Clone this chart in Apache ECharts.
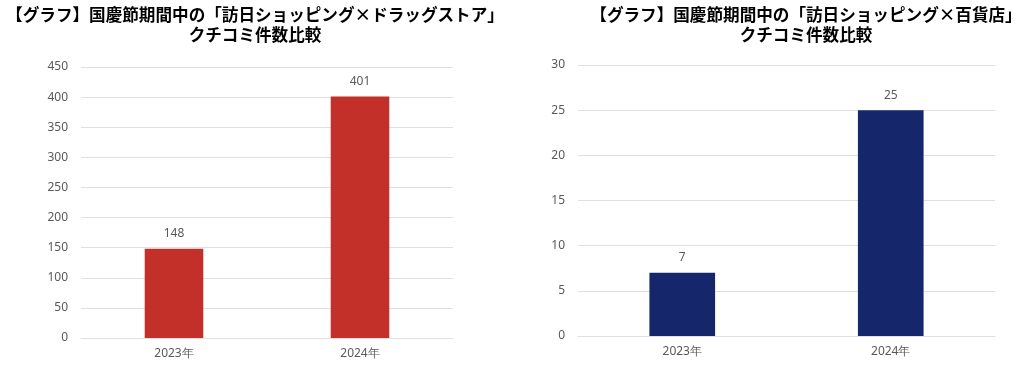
<!DOCTYPE html>
<html><head><meta charset="utf-8">
<script src="https://cdn.jsdelivr.net/npm/echarts@6/dist/echarts.min.js"></script>
<style>html,body{margin:0;padding:0;background:#fff}#c{width:1024px;height:381px}</style>
</head><body><div id="c"></div>
<script>
const categories = ['2023年', '2024年'];
const drugValues = [148, 401];
const deptValues = [7, 25];
const titleLeft = '【グラフ】国慶節期間中の「訪日ショッピング×ドラッグストア」\nクチコミ件数比較';
const titleRight = '【グラフ】国慶節期間中の「訪日ショッピング×百貨店」\nクチコミ件数比較';

const chart = echarts.init(document.getElementById('c'));
const lab = {color:'#595959', fontSize:12, fontFamily:'"Noto Sans", sans-serif'};
const grid = '#E4DEDF';
function xAxis(i){return {type:'category', gridIndex:i, data:categories,
  axisLine:{lineStyle:{color:grid}}, axisTick:{show:false},
  axisLabel:Object.assign({margin:10}, lab)};}
function yAxis(i,max,interval){return {type:'value', gridIndex:i, min:0, max:max, interval:interval,
  axisLine:{show:false}, axisTick:{show:false},
  splitLine:{lineStyle:{color:grid}}, axisLabel:Object.assign({margin:13}, lab)};}
function series(i,data,color){return {type:'bar', xAxisIndex:i, yAxisIndex:i, data:data, barWidth:'31.5%',
  itemStyle:{color:color}, label:Object.assign({show:true, position:'top', distance:9}, lab)};}
const tStyle = {fontSize:16.6, fontWeight:'bold', color:'#000', lineHeight:20, fontFamily:'"Noto Sans CJK JP", sans-serif'};
chart.setOption({
  animation:false,
  textStyle:{fontFamily:'"Noto Sans CJK JP", sans-serif'},
  title:[
    {text:titleLeft, left:255, top:5, textAlign:'center', padding:0, textStyle:tStyle},
    {text:titleRight, left:806, top:5, textAlign:'center', padding:0, textStyle:tStyle}
  ],
  grid:[
    {left:81, right:571, top:67, bottom:43},
    {left:578, right:29, top:65, bottom:45}
  ],
  xAxis:[xAxis(0), xAxis(1)],
  yAxis:[yAxis(0,450,50), yAxis(1,30,5)],
  series:[series(0,drugValues,'#C3302A'), series(1,deptValues,'#15266B')]
});
</script></body></html>
